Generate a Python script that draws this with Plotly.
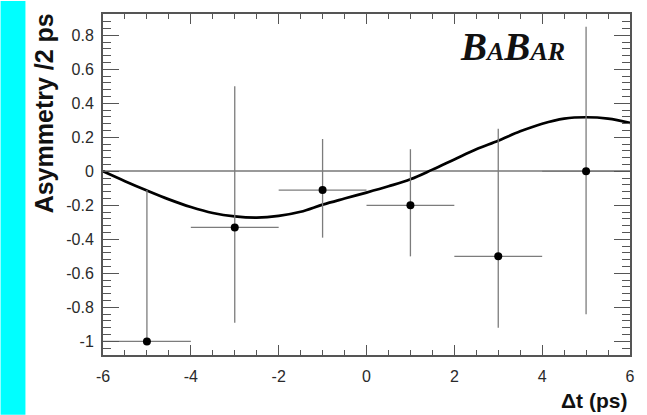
import plotly.graph_objects as go

# Binned asymmetry measurements
dt_centers = [-5, -3, -1, 1, 3, 5]
dt_halfwidth = [1, 1, 1, 1, 1, 1]
asym = [-1.0, -0.33, -0.11, -0.20, -0.50, 0.0]
err_up = [0.89, 0.83, 0.30, 0.33, 0.75, 0.85]
err_down = [0.0, 0.56, 0.28, 0.30, 0.42, 0.84]

# Fitted asymmetry curve, sampled every 0.5 ps
fit_dt = [-6, -5.5, -5, -4.5, -4, -3.5, -3, -2.5, -2, -1.5, -1, -0.5, 0,
          0.5, 1, 1.5, 2, 2.5, 3, 3.5, 4, 4.5, 5, 5.5, 6]
fit_asym = [0.0, -0.058, -0.113, -0.165, -0.21, -0.245, -0.265, -0.272,
            -0.262, -0.238, -0.196, -0.16, -0.125, -0.088, -0.047, 0.01,
            0.07, 0.13, 0.18, 0.235, 0.28, 0.31, 0.318, 0.31, 0.285]

x_ticks = [-6, -4, -2, 0, 2, 4, 6]
y_ticks = [-1, -0.8, -0.6, -0.4, -0.2, 0, 0.2, 0.4, 0.6, 0.8]
y_ticklabels = ["-1", "-0.8", "-0.6", "-0.4", "-0.2", "0", "0.2", "0.4", "0.6", "0.8"]

W, H = 647, 415
ML, MR, MT, MB = 103, 14, 13, 60
PW, PH = W - ML - MR, H - MT - MB

fig = go.Figure()

fig.add_trace(go.Scatter(
    x=fit_dt, y=fit_asym, mode="lines",
    line=dict(color="black", width=2.7, shape="spline", smoothing=1.0),
    hoverinfo="skip", showlegend=False,
))

fig.add_trace(go.Scatter(
    x=dt_centers, y=asym, mode="markers",
    marker=dict(color="black", size=8),
    error_x=dict(type="data", array=dt_halfwidth, color="#7c7c7c",
                 thickness=1.3, width=0),
    error_y=dict(type="data", array=err_up, arrayminus=err_down,
                 symmetric=False, color="#7c7c7c", thickness=1.3, width=0),
    showlegend=False,
))

tick_font = dict(family="Liberation Sans", size=16, color="#2a2a2a")

fig.update_xaxes(
    range=[-6, 6], tickvals=x_ticks, ticktext=[str(v) for v in x_ticks],
    ticks="inside", ticklen=10, tickwidth=1.3, tickcolor="#555",
    minor=dict(ticks="inside", dtick=0.5, tick0=0, ticklen=5,
               tickwidth=1.2, tickcolor="#555", showgrid=False),
    showline=True, linecolor="#555", linewidth=2, mirror="ticks",
    showgrid=False, zeroline=False, tickfont=tick_font,
    ticklabelstandoff=6,
)
fig.update_yaxes(
    range=[-1.080, 0.925], tickvals=y_ticks, ticktext=y_ticklabels,
    ticks="inside", ticklen=16, tickwidth=1.3, tickcolor="#555",
    minor=dict(ticks="inside", dtick=0.04, tick0=0, ticklen=8,
               tickwidth=1.2, tickcolor="#555", showgrid=False),
    showline=True, linecolor="#555", linewidth=2, mirror="ticks",
    showgrid=False, zeroline=True, zerolinecolor="#999", zerolinewidth=1.5,
    tickfont=tick_font, ticklabelstandoff=4,
)

annotations = [
    dict(text="<b>Asymmetry /2 ps</b>", textangle=-90,
         xref="paper", yref="paper",
         x=(44 - ML) / PW, y=1 + (MT - 10) / PH,
         xanchor="center", yanchor="top", showarrow=False,
         font=dict(family="Liberation Sans", size=25, color="#111")),
    dict(text="<b>\u0394t (ps)</b>", xref="paper", yref="paper",
         x=(632 - ML) / PW, y=-(401 - (H - MB)) / PH,
         xanchor="right", yanchor="middle", showarrow=False,
         font=dict(family="Liberation Sans", size=21, color="#111")),
    dict(text="<b><i>B<span style='font-size:26px'>A</span>B"
              "<span style='font-size:26px'>AR</span></i></b>",
         xref="paper", yref="paper",
         x=(515 - ML) / PW, y=(H - MB - 69) / PH,
         xanchor="center", yanchor="bottom", showarrow=False,
         font=dict(family="Liberation Serif", size=39, color="#111")),
]

shapes = [
    dict(type="rect", xref="paper", yref="paper",
         x0=-ML / PW, x1=(25 - ML) / PW,
         y0=-MB / PH, y1=1 + MT / PH,
         fillcolor="#00FFFF", line=dict(width=0), layer="below"),
]

fig.update_layout(
    width=W, height=H,
    margin=dict(l=ML, r=MR, t=MT, b=MB),
    paper_bgcolor="white", plot_bgcolor="white",
    annotations=annotations, shapes=shapes,
)

fig.write_html("out.html")
